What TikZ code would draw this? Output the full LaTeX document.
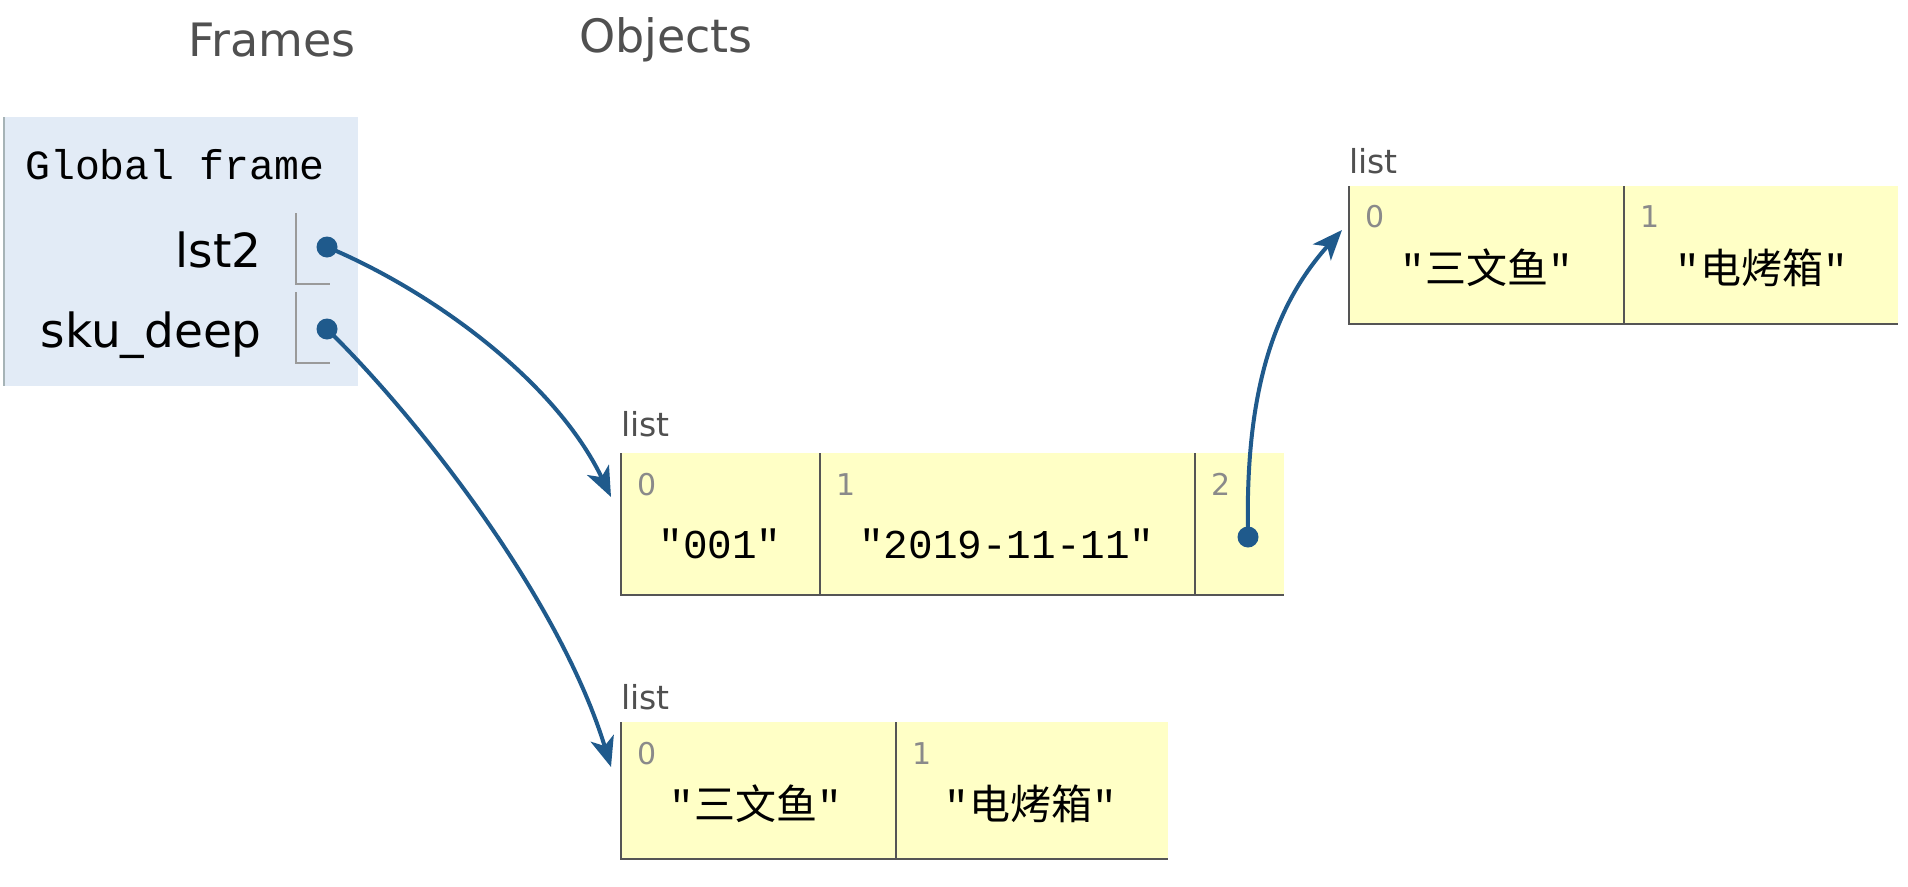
\documentclass[tikz,border=0pt]{standalone}
\usepackage{fontspec}
\setmainfont{DejaVu Sans}
\setmonofont{Liberation Mono}
\newfontfamily\cjk{Noto Sans CJK SC}
\usetikzlibrary{arrows.meta}
\definecolor{framebg}{HTML}{E2EBF6}
\definecolor{listbg}{HTML}{FFFFC6}
\definecolor{ptr}{HTML}{1F5A8C}
\definecolor{hdr}{HTML}{505050}
\definecolor{idxc}{HTML}{8A8A8A}
\definecolor{cellline}{HTML}{555555}
\definecolor{ptrline}{HTML}{9A9A9A}
\definecolor{frameline}{HTML}{A6B3B6}
\newcommand{\vq}{{\ttfamily"}}
\tikzset{
  header/.style={text=hdr, font=\fontsize{46}{52}\selectfont, inner sep=0pt},
  cell/.style={fill=listbg, draw=none, inner sep=0pt, anchor=north west},
  cellborder/.style={draw=cellline, line width=2pt},
  idx/.style={text=idxc, font=\fontsize{30}{34}\selectfont, inner sep=0pt, anchor=base west},
  val/.style={font=\fontsize{41}{46}\selectfont\ttfamily, inner sep=0pt, anchor=base},
  cval/.style={font=\fontsize{41}{46}\selectfont, inner sep=0pt, anchor=base},
  listlbl/.style={text=hdr, font=\fontsize{33}{38}\selectfont, inner sep=0pt, anchor=base west},
  varname/.style={font=\fontsize{47}{52}\selectfont, inner sep=0pt, anchor=base east},
  dot/.style={circle, fill=ptr, inner sep=0pt, minimum size=21pt},
  arr/.style={draw=ptr, line width=4pt, -{Stealth[length=30pt,width=24pt,inset=8pt]}},
  ptrbox/.style={draw=ptrline, line width=1.5pt}
}
\begin{document}
\begin{tikzpicture}[x=1pt,y=-1pt]
\useasboundingbox[fill=white] (0,0) rectangle (1908,886);

% headers
\node[header] (frames) at (272,40) {Frames};
\node[header] (objects) at (666,40) {Objects};

% global frame
\node[fill=framebg, inner sep=0pt, minimum width=354pt, minimum height=269pt, anchor=north west] (gf) at (4,117) {};
\draw[frameline, line width=2pt] (gf.north west) -- (gf.south west);
\node[font=\fontsize{41.5}{46}\selectfont\ttfamily, inner sep=0pt, anchor=west] (gft) at (25,165) {Global frame};
\node[varname] (v1) at (262,267) {lst2};
\node[varname] (v2) at (262,347) {sku\_deep};
\coordinate (p1a) at (296,213);
\coordinate (p1b) at (296,284);
\coordinate (p1c) at (330,284);
\coordinate (p2a) at (296,292);
\coordinate (p2b) at (296,363);
\coordinate (p2c) at (330,363);
\draw[ptrbox] (p1a) -- (p1b) -- (p1c);
\draw[ptrbox] (p2a) -- (p2b) -- (p2c);

% middle list
\node[listlbl] (lm) at (621,436) {list};
\node[cell, minimum width=199pt, minimum height=142pt] (m0) at (621,453) {};
\node[cell, minimum width=375pt, minimum height=142pt] (m1) at (820,453) {};
\node[cell, minimum width=89pt, minimum height=142pt] (m2) at (1195,453) {};
\draw[cellborder] (m0.north west) -- (m0.south west) -- (m2.south east);
\draw[cellborder] (m1.north west) -- (m1.south west);
\draw[cellborder] (m2.north west) -- (m2.south west);
\node[idx] (mi0) at (637,495) {0};
\node[idx] (mi1) at (836,495) {1};
\node[idx] (mi2) at (1211,495) {2};
\node[val] (mv0) at (720,558) {"001"};
\node[val] (mv1) at (1007,558) {"2019-11-11"};

% top-right list
\node[listlbl] (lt) at (1349,173) {list};
\node[cell, minimum width=275pt, minimum height=138pt] (t0) at (1349,186) {};
\node[cell, minimum width=274pt, minimum height=138pt] (t1) at (1624,186) {};
\draw[cellborder] (t0.north west) -- (t0.south west) -- (t1.south east);
\draw[cellborder] (t1.north west) -- (t1.south west);
\node[idx] (ti0) at (1365,227) {0};
\node[idx] (ti1) at (1640,227) {1};
\node[cval] (tv0) at (1487,283) {\vq{\cjk 三文鱼}\vq};
\node[cval] (tv1) at (1762,283) {\vq{\cjk 电烤箱}\vq};

% bottom list
\node[listlbl] (lb) at (621,709) {list};
\node[cell, minimum width=275pt, minimum height=137pt] (b0) at (621,722) {};
\node[cell, minimum width=272pt, minimum height=137pt] (b1) at (896,722) {};
\draw[cellborder] (b0.north west) -- (b0.south west) -- (b1.south east);
\draw[cellborder] (b1.north west) -- (b1.south west);
\node[idx] (bi0) at (637,764) {0};
\node[idx] (bi1) at (912,764) {1};
\node[cval] (bv0) at (756,819) {\vq{\cjk 三文鱼}\vq};
\node[cval] (bv1) at (1031,819) {\vq{\cjk 电烤箱}\vq};

% pointers
\node[dot] (d1) at (327,247) {};
\node[dot] (d2) at (327,329) {};
\node[dot] (d3) at (1248,537) {};
\coordinate (e1) at (611,497);
\coordinate (e2) at (611,767);
\coordinate (e3) at (1342,230);
\draw[arr] (d1.center) .. controls (430,290) and (555,380) .. (e1);
\draw[arr] (d2.center) .. controls (420,420) and (560,600) .. (e2);
\draw[arr] (d3.center) .. controls (1245,400) and (1270,310) .. (e3);
\end{tikzpicture}
\end{document}
